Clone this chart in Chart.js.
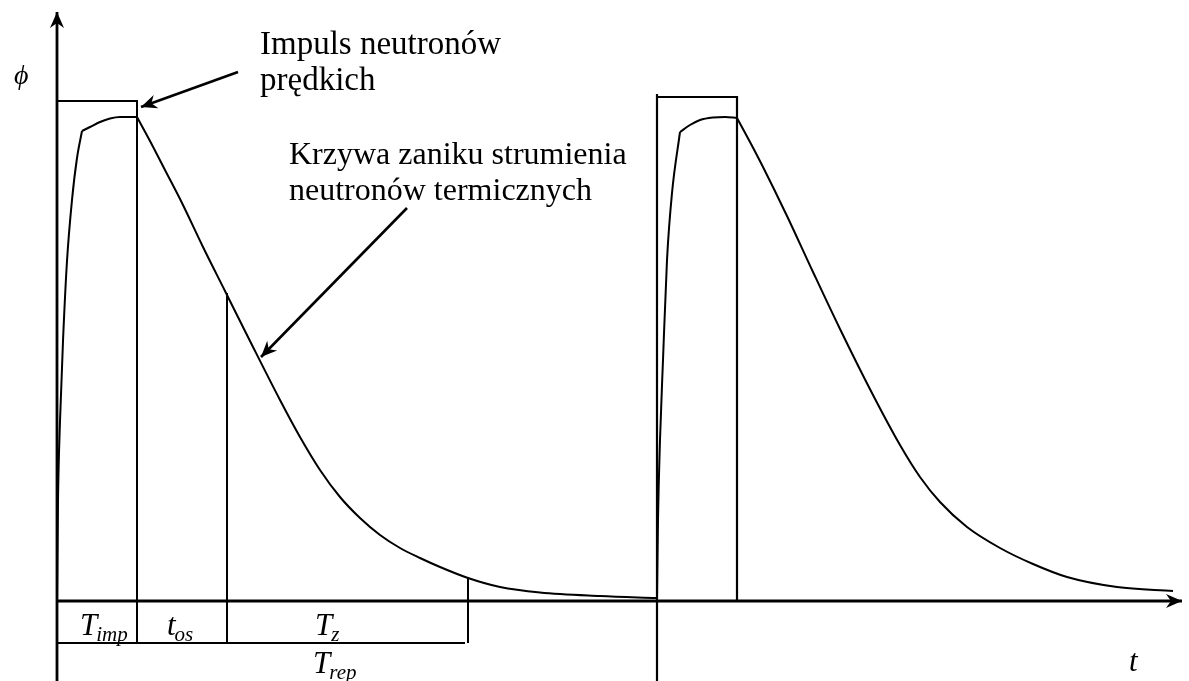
<!DOCTYPE html>
<html lang="pl">
<head>
  <meta charset="UTF-8" />
  <title>Impuls neutronów i krzywa zaniku</title>
  <script src="https://cdn.jsdelivr.net/npm/chart.js"></script>
  <style>
    html, body { margin: 0; padding: 0; background: #fff; }
    #chartContainer { width: 1189px; height: 681px; position: relative; }
  </style>
</head>
<body>

  <div id="chartContainer">
    <canvas id="pulseChart"></canvas>
  </div>

  <script>
    // time axis in arbitrary units, flux in % of pulse height
    const pulse1 = [ [0, 100], [8, 100], [8, -8.4] ];
    const pulse2 = [ [60, -16], [60, 101.4], [null, null], [60, 100.8], [68, 100.8], [68, 0] ];

    // thermal flux, first pulse: build-up, flat top, decay
    const rise1 = [ [0, 0], [0.1, 20], [0.3, 36], [0.6, 52], [1.0, 68], [1.5, 80.2], [2.0, 88.6], [2.5, 94] ];
    const top1 = [ [2.5, 94], [3.3, 94.8], [4.3, 95.8], [5.3, 96.5], [6.3, 96.8], [8.0, 96.8] ];
    const decay1 = [
      [8.0, 96.8], [9.3, 92.0], [10.8, 86.2], [12.5, 79.6], [14.6, 70.8], [16.8, 62.0],
      [19.3, 52.0], [22.3, 40.2], [24.3, 32.8], [26.3, 26.2], [28.3, 20.8], [30.3, 16.6],
      [32.3, 13.2], [34.3, 10.6], [36.3, 8.6], [38.3, 6.8], [41.1, 4.6], [44.3, 2.8],
      [48.3, 1.7], [54.3, 1.0], [60.0, 0.6]
    ];

    // thermal flux, second pulse
    const rise2 = [ [60, 0], [60.1, 16.2], [60.3, 32.2], [60.6, 48.2], [61.0, 68.2], [61.5, 81.6], [62.3, 93.8] ];
    const top2 = [ [62.3, 93.8], [63.3, 95.2], [64.3, 96.2], [65.6, 96.7], [66.8, 96.8], [68.0, 96.6] ];
    const decay2 = [
      [68.0, 96.6], [69.3, 91.8], [70.6, 86.8], [73.0, 77.0], [75.6, 65.8], [78.3, 54.4],
      [81.6, 41.2], [84.3, 31.2], [86.3, 24.8], [88.3, 19.8], [91.0, 14.8], [94.3, 10.6],
      [97.6, 7.4], [101.0, 4.8], [106.0, 2.8], [111.6, 2.0]
    ];

    // T_imp, t_os, T_z boundaries and the T_rep bracket
    const tImp = 8, tOs = 17, tZ = 41.1, markDepth = -8.4;
    const markers = [
      [ [tOs, 61.6], [tOs, markDepth] ],
      [ [tZ, 4.6], [tZ, markDepth] ],
      [ [0, markDepth], [tZ - 0.3, markDepth] ]
    ];

    const axisX = [ [0, 0], [112.5, 0] ];
    const axisY = [ [0, -16], [0, 117.8] ];
    const arrowPulse = [ [18.1, 105.8], [8.4, 98.8] ];
    const arrowDecay = [ [35.0, 78.6], [20.4, 48.8] ];

    const notes = [
      { lines: ['Impuls neutronów', 'prędkich'], x: 20.3, y: [109.4, 102.2], size: 33 },
      { lines: ['Krzywa zaniku strumienia', 'neutronów termicznych'], x: 23.2, y: [87.4, 80.2], size: 32 }
    ];
    const symbols = [
      { main: 'T', sub: 'imp', x: 2.3, y: -6.8 },
      { main: 't', sub: 'os', x: 11.0, y: -6.8 },
      { main: 'T', sub: 'z', x: 25.8, y: -6.8 },
      { main: 'T', sub: 'rep', x: 25.6, y: -14.4 },
      { main: 't', sub: '', x: 107.2, y: -14.0 },
      { main: 'ϕ', sub: '', x: -4.3, y: 103.4 }
    ];

    const pts = arr => arr.map(p => ({ x: p[0], y: p[1] }));
    const SERIF = '"Liberation Serif", "Times New Roman", serif';

    function line(data, width, extra) {
      return Object.assign({
        data: pts(data), showLine: true, borderColor: '#000', borderWidth: width,
        pointRadius: 0, fill: false, spanGaps: false, clip: false
      }, extra || {});
    }
    const smooth = { cubicInterpolationMode: 'monotone' };

    const datasets = [
      line(axisX, 2.8, { arrow: true }),
      line(axisY, 2.8, { arrow: true }),
      line(pulse1, 2),
      line(pulse2, 2.2),
      line(rise1, 2, smooth), line(top1, 2, smooth), line(decay1, 2, smooth),
      line(rise2, 2, smooth), line(top2, 2, smooth), line(decay2, 2, smooth),
      line(arrowPulse, 2.6, { arrow: true }),
      line(arrowDecay, 2.6, { arrow: true })
    ];
    markers.forEach(m => datasets.push(line(m, 2)));

    function arrowHead(ctx, from, to) {
      const a = Math.atan2(to.y - from.y, to.x - from.x);
      const len = 16, half = 7, notch = 5;
      ctx.save();
      ctx.translate(to.x, to.y);
      ctx.rotate(a);
      ctx.beginPath();
      ctx.moveTo(0, 0);
      ctx.lineTo(-len, -half);
      ctx.lineTo(-len + notch, 0);
      ctx.lineTo(-len, half);
      ctx.closePath();
      ctx.fillStyle = '#000';
      ctx.fill();
      ctx.restore();
    }

    const diagramPlugin = {
      id: 'diagram',
      afterDatasetsDraw(chart) {
        const ctx = chart.ctx;
        const sx = chart.scales.x, sy = chart.scales.y;
        chart.data.datasets.forEach(ds => {
          if (!ds.arrow) return;
          const n = ds.data.length;
          const p0 = ds.data[n - 2], p1 = ds.data[n - 1];
          arrowHead(ctx,
            { x: sx.getPixelForValue(p0.x), y: sy.getPixelForValue(p0.y) },
            { x: sx.getPixelForValue(p1.x), y: sy.getPixelForValue(p1.y) });
        });

        ctx.save();
        ctx.fillStyle = '#000';
        ctx.textBaseline = 'alphabetic';
        ctx.textAlign = 'left';
        notes.forEach(n => {
          ctx.font = n.size + 'px ' + SERIF;
          n.lines.forEach((s, i) => {
            ctx.fillText(s, sx.getPixelForValue(n.x), sy.getPixelForValue(n.y[i]));
          });
        });
        symbols.forEach(s => {
          const px = sx.getPixelForValue(s.x), py = sy.getPixelForValue(s.y);
          ctx.font = (s.main === 'ϕ' ? 'italic 28px ' : 'italic 31px ') + SERIF;
          ctx.fillText(s.main, px, py);
          if (s.sub) {
            const w = ctx.measureText(s.main).width;
            ctx.font = 'italic 21px ' + SERIF;
            ctx.fillText(s.sub, px + w - 1, py + 6);
          }
        });
        ctx.restore();
      }
    };

    new Chart(document.getElementById('pulseChart'), {
      type: 'scatter',
      data: { datasets: datasets },
      options: {
        responsive: true,
        maintainAspectRatio: false,
        animation: false,
        layout: { padding: 0 },
        plugins: { legend: { display: false }, tooltip: { enabled: false } },
        scales: {
          x: { type: 'linear', min: -5.7, max: 113.2, display: false },
          y: { type: 'linear', min: -16, max: 120.2, display: false }
        }
      },
      plugins: [diagramPlugin]
    });
  </script>

</body>
</html>
